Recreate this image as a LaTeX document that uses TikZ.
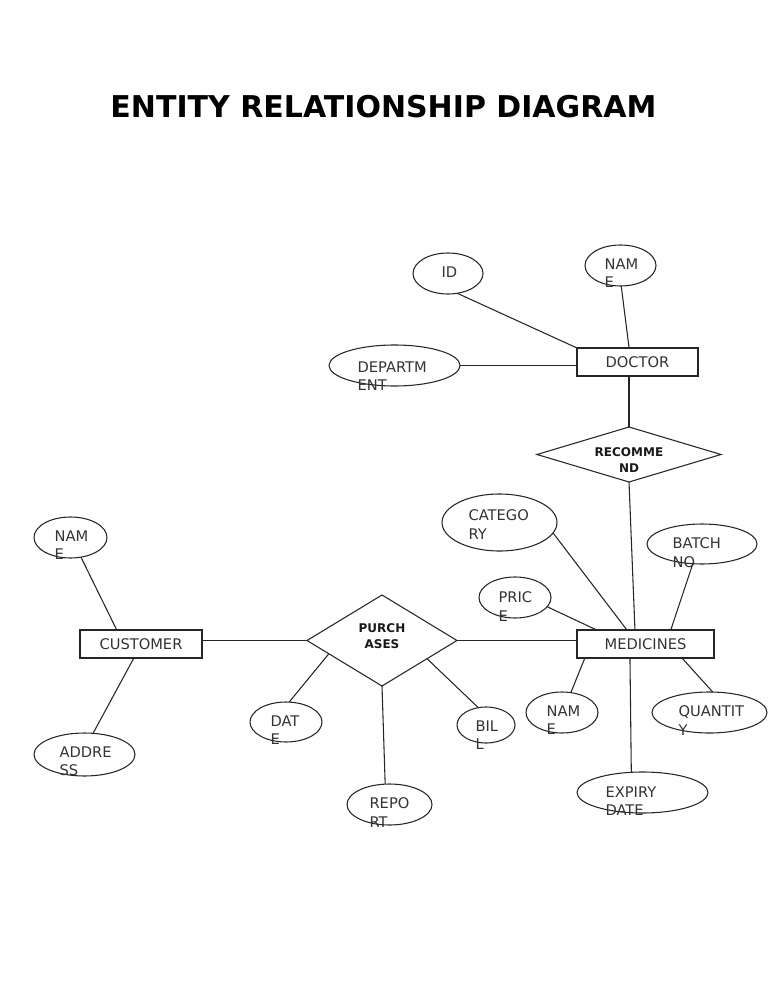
\documentclass[tikz,border=0pt]{standalone}
\usepackage{fontspec}
\setmainfont{DejaVu Sans}
\usetikzlibrary{shapes.geometric,calc}

\begin{document}
\begin{tikzpicture}[x=0.75pt, y=-0.75pt, line width=0.8pt,
  attr/.style 2 args={draw=black!85, ellipse, inner sep=0pt, outer sep=0pt,
    minimum width=#1*0.75pt, minimum height=#2*0.75pt},
  entity/.style 2 args={draw=black!85, rectangle, inner sep=0pt, outer sep=0pt,
    minimum width=#1*0.75pt, minimum height=#2*0.75pt,
    font=\fontsize{11}{14}\selectfont, text=black!80},
  rel/.style 2 args={draw=black!85, diamond, inner sep=0pt, outer sep=0pt,
    minimum width=#1*0.75pt, minimum height=#2*0.75pt},
  attrtext/.style={anchor=north west, inner sep=0pt, align=left,
    font=\fontsize{11}{14}\selectfont, text=black!80},
  reltext/.style={inner sep=0pt, align=center,
    font=\fontsize{9}{12}\selectfont\bfseries, text=black!90},
  link/.style={draw=black!85}]
  \useasboundingbox (0,0) rectangle (768,994);

  \node[font=\fontsize{22.5}{27}\selectfont\bfseries] (title) at (383.5,106.5)
    {ENTITY RELATIONSHIP DIAGRAM};

  % entities
  \node[entity={121}{28}] (doctor) at (637.5,362) {DOCTOR};
  \node[entity={137}{28}] (medicines) at (645.5,644) {MEDICINES};
  \node[entity={122}{28}] (customer) at (141,644) {CUSTOMER};

  % relationships
  \node[rel={184}{55}] (recommend) at (629,454.5) {};
  \node[reltext] (recommendtxt) at (629,460.5) {RECOMME\\ND};
  \node[rel={150}{91}] (purchases) at (382,640.5) {};
  \node[reltext] (purchasestxt) at (382,636.5) {PURCH\\ASES};

  % attributes of doctor
  \node[attr={70}{41}] (did) at (448,273.5) {};
  \node[attrtext] (didtxt) at (441,266) {ID};
  \node[attr={71}{41}] (dname) at (620.5,265.5) {};
  \node[attrtext] (dnametxt) at (604,258) {NAM\\E};
  \node[attr={131}{41}] (ddept) at (394.5,365.5) {};
  \node[attrtext] (ddepttxt) at (357,361) {DEPARTM\\ENT};

  % attributes of medicines
  \node[attr={115}{57}] (mcat) at (499.5,522.5) {};
  \node[attrtext] (mcattxt) at (468,509) {CATEGO\\RY};
  \node[attr={110}{40}] (mbatch) at (702,544) {};
  \node[attrtext] (mbatchtxt) at (672,537) {BATCH\\NO};
  \node[attr={72}{41}] (mprice) at (515,597.5) {};
  \node[attrtext] (mpricetxt) at (498,591) {PRIC\\E};
  \node[attr={72}{41}] (mname) at (562,712.5) {};
  \node[attrtext] (mnametxt) at (546,705) {NAM\\E};
  \node[attr={115}{41}] (mqty) at (709.5,712.5) {};
  \node[attrtext] (mqtytxt) at (678,705) {QUANTIT\\Y};
  \node[attr={131}{41}] (mexp) at (642.5,792.5) {};
  \node[attrtext] (mexptxt) at (605,786) {EXPIRY\\DATE};

  % attributes of customer
  \node[attr={73}{41}] (cname) at (70.5,537.5) {};
  \node[attrtext] (cnametxt) at (54,530) {NAM\\E};
  \node[attr={101}{43}] (caddr) at (84.5,754.5) {};
  \node[attrtext] (caddrtxt) at (59,746) {ADDRE\\SS};

  % attributes of purchases
  \node[attr={72}{40}] (pdate) at (286,722) {};
  \node[attrtext] (pdatetxt) at (270,715) {DAT\\E};
  \node[attr={85}{41}] (preport) at (389.5,804.5) {};
  \node[attrtext] (preporttxt) at (369,797) {REPO\\RT};
  \node[attr={58}{36}] (pbill) at (486,725) {};
  \node[attrtext] (pbilltxt) at (475,720) {BIL\\L};

  % links
  \draw[link] (did.-65) -- (doctor.north west);
  \draw[link] (dname.-88) -- (doctor.121);
  \draw[link] (ddept.east) -- (ddept.east -| doctor.west);
  \draw[link] (recommend.north |- doctor.south) -- (recommend.north);
  \draw[link] (recommend.south) -- (medicines.127);
  \draw[link] (mcat.-11) -- (medicines.143);
  \draw[link] (mprice.-16) -- (medicines.164);
  \draw[link] (mbatch.-115) -- (medicines.29);
  \draw[link] (medicines.-167) -- (mname.66);
  \draw[link] (medicines.-138) -- (mexp.119);
  \draw[link] (medicines.-21) -- (mqty.81);
  \draw[link] (purchases.east) -- (purchases.east -| medicines.west);
  \draw[link] (purchases.west -| customer.east) -- (purchases.west);
  \draw[link] (cname.-62) -- (customer.150);
  \draw[link] (customer.-117) -- (caddr.68);
  \draw[link] (purchases.-166) -- (pdate.81);
  \draw[link] (purchases.south) -- (preport.102);
  \draw[link] (purchases.-22) -- (pbill.114);
\end{tikzpicture}
\end{document}
